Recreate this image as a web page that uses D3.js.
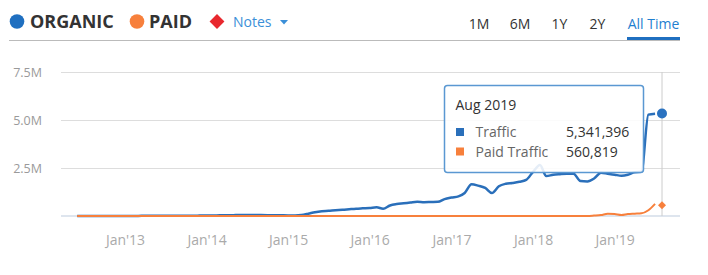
<!DOCTYPE html>
<html lang="en">
    <head>
        <meta charset="utf-8">
        <title>Organic vs Paid Traffic</title>
        <script src="https://d3js.org/d3.v7.min.js"></script>
        <style type="text/css">
            body { margin: 0; background: #fff; }
            text { font-family: "Open Sans", sans-serif; }
        </style>
    </head>
    <body>
        <script type="text/javascript">

        // Constants
        const w = 708;
        const h = 275;
        const plotLeft = 61;
        const plotRight = 680;

        // Data (monthly, Jun 2012 -> Aug 2019, values in millions)
        const firstMonth = new Date(2012, 5, 1);
        const organic2012 = [0, 0, 0, 0, 0, 0, 0];
        const organic2013 = [0.005, 0.005, 0.005, 0.01, 0.01, 0.01, 0.01, 0.01, 0.01, 0.015, 0.015, 0.02];
        const organic2014 = [0.025, 0.03, 0.035, 0.04, 0.045, 0.05, 0.05, 0.055, 0.05, 0.045, 0.04, 0.035];
        const organic2015 = [0.03, 0.03, 0.05, 0.12, 0.2, 0.25, 0.27, 0.3, 0.32, 0.35, 0.38, 0.40];
        const organic2016 = [0.42, 0.45, 0.38, 0.55, 0.62, 0.66, 0.70, 0.74, 0.72, 0.73, 0.74, 0.88];
        const organic2017 = [0.96, 1.02, 1.2, 1.65, 1.58, 1.46, 1.2, 1.55, 1.68, 1.72, 1.78, 1.88];
        const organic2018 = [2.3, 2.66, 2.08, 2.15, 2.18, 2.2, 2.2, 1.82, 1.8, 1.95, 2.25, 2.2];
        const organic2019 = [2.15, 2.1, 2.15, 2.28, 2.3, 5.28, 5.33, 5.341396];

        const paid2012 = [0, 0, 0, 0, 0, 0, 0];
        const paid2013 = [0, 0, 0, 0, 0, 0, 0, 0, 0, 0, 0, 0];
        const paid2014 = [0, 0, 0, 0, 0, 0, 0, 0, 0, 0, 0, 0];
        const paid2015 = [0, 0, 0, 0, 0, 0, 0, 0, 0, 0, 0, 0];
        const paid2016 = [0, 0, 0, 0, 0, 0, 0, 0, 0, 0, 0, 0];
        const paid2017 = [0, 0, 0, 0, 0, 0, 0, 0, 0, 0, 0, 0];
        const paid2018 = [0, 0, 0, 0, 0, 0, 0, 0, 0, 0.02, 0.05, 0.12];
        const paid2019 = [0.1, 0.05, 0.1, 0.12, 0.14, 0.3, 0.63, 0.560819];

        const yTicks = [2.5, 5.0, 7.5];
        const xTickYears = [2013, 2014, 2015, 2016, 2017, 2018, 2019];
        const rangeButtons = ["1M", "6M", "1Y", "2Y", "All Time"];
        const hoverLabel = "Aug 2019";

        const organic = [].concat(organic2012, organic2013, organic2014, organic2015,
                                  organic2016, organic2017, organic2018, organic2019);
        const paid = [].concat(paid2012, paid2013, paid2014, paid2015,
                               paid2016, paid2017, paid2018, paid2019);
        const months = organic.map((v, i) => d3.timeMonth.offset(firstMonth, i));
        const data = months.map((m, i) => ({date: m, organic: organic[i], paid: paid[i]}));
        const last = data[data.length - 1];

        // SVG
        const svg = d3.select("body")
                      .append("svg")
                      .attr("width", w)
                      .attr("height", h);

        // Scales
        const xScale = d3.scaleTime()
                         .domain([new Date(2013, 0, 1), new Date(2019, 7, 1)])
                         .range([125, 662]);

        const yScale = d3.scaleLinear()
                         .domain([0, 7.5])
                         .range([216, 72]);

        // Header legend
        svg.append("circle").attr("cx", 17).attr("cy", 21.5).attr("r", 7.3).attr("fill", "#1f6fc0");
        svg.append("text").attr("x", 30).attr("y", 28).attr("font-size", "18px")
           .attr("font-weight", "bold").attr("fill", "#333").text("ORGANIC");
        svg.append("circle").attr("cx", 137).attr("cy", 21.5).attr("r", 7.3).attr("fill", "#f7803c");
        svg.append("text").attr("x", 149).attr("y", 28).attr("font-size", "18px")
           .attr("font-weight", "bold").attr("fill", "#333").text("PAID");
        svg.append("path").attr("d", d3.symbol(d3.symbolSquare, 110)())
           .attr("transform", "translate(217,21.5) rotate(45)").attr("fill", "#e8282e");
        svg.append("text").attr("x", 233).attr("y", 26.5).attr("font-size", "14px")
           .attr("fill", "#3a8fd8").text("Notes");
        svg.append("path").attr("d", "M280,20 L288,20 L284,24.5 Z").attr("fill", "#3a8fd8");

        // Range buttons
        const btnX = [479, 520, 559.5, 597.5, 653.5];
        svg.selectAll(".btn")
           .data(rangeButtons)
           .enter()
           .append("text")
           .attr("class", "btn")
           .attr("x", (d, i) => btnX[i])
           .attr("y", 29)
           .attr("text-anchor", "middle")
           .attr("font-size", "14px")
           .attr("fill", d => d === "All Time" ? "#1f7fd0" : "#333")
           .text(d => d);

        // Divider + active underline
        svg.append("line").attr("x1", 9).attr("x2", 680).attr("y1", 40.5).attr("y2", 40.5)
           .attr("stroke", "#bbb").attr("stroke-width", 1);
        svg.append("rect").attr("x", 627).attr("y", 37).attr("width", 53).attr("height", 3)
           .attr("fill", "#1f6fc0");

        // Left axis with gridlines
        const leftAxis = d3.axisLeft(yScale)
                           .tickValues(yTicks)
                           .tickFormat(d => d.toFixed(1) + "M")
                           .tickSize(-(plotRight - plotLeft))
                           .tickPadding(19);

        const gy = svg.append("g")
                      .attr("transform", "translate(" + plotLeft + ",0)")
                      .call(leftAxis);
        gy.select(".domain").remove();
        gy.selectAll("line").attr("stroke", "#ddd");
        gy.selectAll("text").attr("font-size", "12.5px").attr("fill", "#9a9a9a")
          .attr("font-family", "Open Sans, sans-serif");

        // Baseline
        svg.append("line").attr("x1", plotLeft).attr("x2", plotRight)
           .attr("y1", yScale(0)).attr("y2", yScale(0))
           .attr("stroke", "#d3dde8").attr("stroke-width", 1.5);

        // Bottom axis
        const bottomAxis = d3.axisBottom(xScale)
                             .tickValues(xTickYears.map(y => new Date(y, 0, 1)))
                             .tickFormat(d3.timeFormat("Jan'%y"))
                             .tickSize(0)
                             .tickPadding(19);

        const gx = svg.append("g")
                      .attr("transform", "translate(0," + yScale(0) + ")")
                      .call(bottomAxis);
        gx.select(".domain").remove();
        gx.selectAll("text").attr("font-size", "14px").attr("fill", "#aaa")
          .attr("font-family", "DejaVu Sans Condensed, sans-serif");

        // Hover line
        svg.append("line").attr("x1", xScale(last.date)).attr("x2", xScale(last.date))
           .attr("y1", yScale(7.5)).attr("y2", yScale(0))
           .attr("stroke", "#ccc").attr("stroke-width", 1);

        // Lines (completed months), markers on hovered month
        const lineData = data.slice(0, -1);

        const organicLine = d3.line()
                              .x(d => xScale(d.date))
                              .y(d => yScale(d.organic))
                              .curve(d3.curveMonotoneX);

        const paidLine = d3.line()
                           .x(d => xScale(d.date))
                           .y(d => yScale(d.paid))
                           .curve(d3.curveMonotoneX);

        svg.append("path").datum(lineData).attr("d", organicLine)
           .attr("fill", "none").attr("stroke", "#2a6fba").attr("stroke-width", 2.5)
           .attr("stroke-linejoin", "round");

        svg.append("path").datum(lineData).attr("d", paidLine)
           .attr("fill", "none").attr("stroke", "#f7803c").attr("stroke-width", 2)
           .attr("stroke-linejoin", "round");

        svg.append("circle").attr("cx", xScale(last.date)).attr("cy", yScale(last.organic))
           .attr("r", 5).attr("fill", "#2a72c0");
        svg.append("path").attr("d", d3.symbol(d3.symbolSquare, 32)())
           .attr("transform", "translate(" + xScale(last.date) + "," + yScale(last.paid) + ") rotate(45)")
           .attr("fill", "#f7803c");

        // Tooltip
        const tip = svg.append("g").attr("transform", "translate(444.5,85.5)");
        tip.append("rect").attr("width", 199).attr("height", 87).attr("rx", 3)
           .attr("fill", "#fff").attr("fill-opacity", 0.88)
           .attr("stroke", "#5a98d2").attr("stroke-width", 1.5);
        tip.append("text").attr("x", 11).attr("y", 24.5).attr("font-size", "14px")
           .attr("fill", "#333").text(hoverLabel);

        const fmt = d3.format(",");
        const rows = [
            {name: "Traffic", color: "#2a6fba", value: Math.round(last.organic * 1e6)},
            {name: "Paid Traffic", color: "#f7803c", value: Math.round(last.paid * 1e6)}
        ];
        rows.forEach((r, i) => {
            const yy = 46.5 + i * 19.5;
            tip.append("rect").attr("x", 11.5).attr("y", yy - 4).attr("width", 8).attr("height", 8)
               .attr("fill", r.color);
            tip.append("text").attr("x", 31).attr("y", yy + 5).attr("font-size", "14px")
               .attr("fill", "#666").text(r.name);
            tip.append("text").attr("x", 121.5).attr("y", yy + 5).attr("font-size", "14px")
               .attr("fill", "#333").text(fmt(r.value));
        });

        </script>
    </body>
</html>
